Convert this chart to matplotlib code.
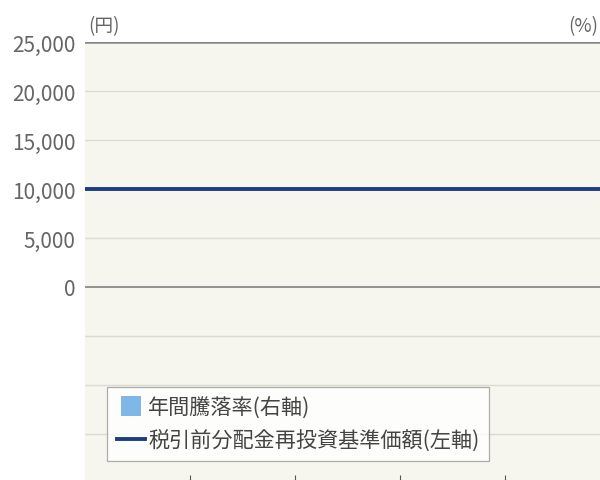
import numpy as np
import matplotlib.pyplot as plt
from matplotlib.lines import Line2D

plt.rcParams['font.family'] = ['Noto Sans CJK JP', 'DejaVu Sans']

# 5 annual periods, no labels visible (cropped), no bar data shown
periods = ['', '', '', '', '']
annual_return = [np.nan, np.nan, np.nan, np.nan, np.nan]   # 年間騰落率 (%)
nav_edges = [0, 1, 2, 3, 4, 5]
nav = [10000, 10000, 10000, 10000, 10000, 10000]           # 基準価額 (円)
yticks = [0, 5000, 10000, 15000, 20000, 25000]

fig = plt.figure(figsize=(6, 4.81), dpi=100)
ax = fig.add_axes([85/600, -3/481, 525/600, 441/481])
ax.set_facecolor('#f7f6ee')

ax.set_xlim(0, 5)
ax.set_ylim(-20000, 25000)

# grid lines
for y in np.arange(-15000, 25001, 5000):
    if y == 0:
        ax.axhline(y, color='#777777', lw=1.1, zorder=1)
    elif y == 25000:
        ax.axhline(y, color='#888888', lw=1.8, zorder=1)
    else:
        ax.axhline(y, color='#dcdbd3', lw=1.0, zorder=1)

ax2 = ax.twinx()
ax2.bar(np.arange(len(periods)) + 0.5, annual_return, width=0.5, color='#7fb8e6')
ax2.set_ylim(-100, 100)
ax2.set_yticks([])
for s in ax2.spines.values():
    s.set_visible(False)

ax.plot(nav_edges, nav, color='#1c3d80', lw=2.8, zorder=5)

ax.set_yticks(yticks)
ax.set_yticklabels([f'{v:,}' for v in yticks], color='#666666', fontsize=15)
ax.tick_params(axis='y', length=0, pad=7)
ax.set_xticks([1, 2, 3, 4])
ax.set_xticklabels([])
ax.tick_params(axis='x', direction='in', length=6, color='#555555', width=0.8)
for s in ax.spines.values():
    s.set_visible(False)

fig.text(88/600, 1 - 27/481, '(円)', color='#666666', fontsize=13.5, va='center')
fig.text(598/600, 1 - 27/481, '(%)', color='#666666', fontsize=13.5, va='center', ha='right')

handles = [Line2D([], [], marker='s', markersize=15, ls='none',
                  color='#7fb8e6', markeredgewidth=0),
           Line2D([], [], color='#1c3d80', lw=2.8)]
labels = ['年間騰落率(右軸)', '税引前分配金再投資基準価額(左軸)']
leg = fig.legend(handles, labels, loc='upper left', bbox_to_anchor=(107/600, 1 - 388/481),
                 bbox_transform=fig.transFigure, borderaxespad=0,
                 fontsize=15.2, frameon=True, fancybox=False,
                 handlelength=1.35, handletextpad=0.15, borderpad=0.45, labelspacing=0.5,
                 labelcolor='#444444')
leg.get_frame().set_edgecolor('#999999')
leg.get_frame().set_facecolor('white')
leg.get_frame().set_linewidth(0.9)
leg.set_zorder(10)

fig.savefig('out.png', dpi=100)
